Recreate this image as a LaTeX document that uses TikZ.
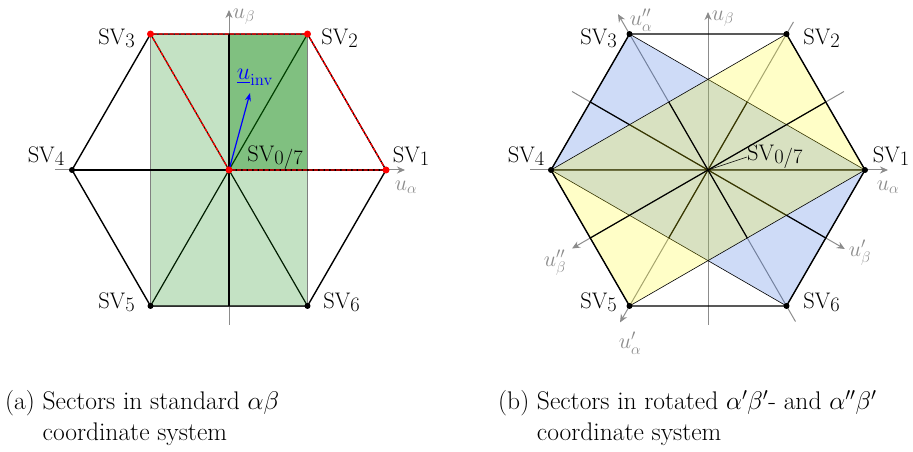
\documentclass[tikz,border=0pt]{standalone}
\usepackage{fix-cm}
\usepackage{amsmath}
\usetikzlibrary{arrows.meta}
\definecolor{axisgray}{RGB}{140,140,140}
\definecolor{secgreen}{RGB}{0,128,0}
\definecolor{secblue}{RGB}{30,90,220}
\definecolor{secyellow}{RGB}{255,250,0}
\newcommand{\svname}[1]{SV\raisebox{-0.3ex}{\fontsize{20.5}{20.5}\selectfont #1}}
\tikzset{
  hexedge/.style={line width=1.4pt, line join=round},
  secline/.style={line width=1.2pt},
  axis/.style={axisgray, line width=1pt, -{Stealth[length=8pt,width=7pt]}},
  axislabel/.style={text=axisgray, font=\fontsize{22}{22}\selectfont, inner sep=0pt},
  svlabel/.style={font=\fontsize{22.5}{22.5}\selectfont, inner sep=0pt},
  dot/.style={circle, fill=black, inner sep=0pt, minimum size=6pt},
  reddot/.style={circle, fill=red, inner sep=0pt, minimum size=7pt},
  reddash/.style={red, line width=1.3pt, dash pattern=on 4pt off 1.5pt},
  caption/.style={font=\fontsize{25.5}{31}\selectfont, anchor=base west, inner sep=0pt}
}
\begin{document}
\begin{tikzpicture}[x=1pt,y=1pt]
\useasboundingbox (0,0) rectangle (913,452);

% (a) sectors in the standard alpha-beta frame
\begin{scope}[shift={(229,282)}]
  \foreach \k in {1,...,6}
    \coordinate (a\k) at ({(\k-1)*60}:157);
  \coordinate (a0) at (0,0);
  \coordinate (atop) at (0,136);
  \coordinate (abot) at (0,-136);
  % axes
  \draw[axis] (-174,0) coordinate (axl) -- (176,0) coordinate (axr);
  \draw[axis] (0,-155) coordinate (ayb) -- (0,160) coordinate (ayt);
  % diagonals, then the sector rectangles on top
  \draw[secline] (a2) -- (a5) (a3) -- (a6);
  \fill[secgreen, fill opacity=0.23] (a3) rectangle (a6);
  \fill[secgreen, fill opacity=0.35] (a0) rectangle (a2);
  \draw[gray, line width=0.6pt] (a3) rectangle (a6);
  \draw[secline] (a4) -- (a1) (atop) -- (abot);
  % hexagon
  \draw[hexedge] (a1) -- (a2) -- (a3) -- (a4) -- (a5) -- (a6) -- cycle;
  % active sector
  \draw[reddash] (a0) -- (a3) -- (a2) -- (a1) -- cycle;
  % reference vector
  \draw[blue, line width=1.2pt, -{Stealth[length=8pt,width=6pt]}] (a0) -- (21,77) coordinate (ainv);
  \node[blue, font=\fontsize{24}{24}\selectfont, inner sep=0pt] (luinv) at ([shift={(5,16)}]ainv) {$\underline{u}_{\mathrm{inv}}$};
  % vertices
  \foreach \k in {0,1,2,3}
    \node[reddot] (da\k) at (a\k) {};
  \foreach \k in {4,5,6}
    \node[dot] (da\k) at (a\k) {};
  \node[svlabel] (la1) at ([shift={(25,14)}]a1) {\svname{1}};
  \node[svlabel] (la2) at ([shift={(32,-4)}]a2) {\svname{2}};
  \node[svlabel] (la3) at ([shift={(-34,-4)}]a3) {\svname{3}};
  \node[svlabel] (la4) at ([shift={(-26,14)}]a4) {\svname{4}};
  \node[svlabel] (la5) at ([shift={(-34,4)}]a5) {\svname{5}};
  \node[svlabel] (la6) at ([shift={(34,4)}]a6) {\svname{6}};
  \node[svlabel] (la0) at ([shift={(46,12)}]a0) {\svname{0/7}};
  \node[axislabel] (lax) at ([shift={(1,-17)}]axr) {$u_\alpha$};
  \node[axislabel] (lay) at ([shift={(15,-7)}]ayt) {$u_\beta$};
\end{scope}

% (b) sectors in the rotated frames
\begin{scope}[shift={(708,282)}]
  \foreach \k in {1,...,6}
    \coordinate (b\k) at ({(\k-1)*60}:157);
  \coordinate (b0) at (0,0);
  \foreach \ang in {30,150,210,330}
    \coordinate (bm\ang) at (\ang:136);
  \foreach \ang in {60,120,240,300}
    \coordinate (bh\ang) at (\ang:78.5);
  % axes
  \draw[axis] (-178,0) coordinate (bxl) -- (180,0) coordinate (bxr);
  \draw[axis] (0,-155) coordinate (byb) -- (0,158) coordinate (byt);
  \draw[axis] (60:171) coordinate (bpa1) -- (240:176) coordinate (bpa2);
  \draw[axis] (150:157) coordinate (bpb1) -- (330:158) coordinate (bpb2);
  \draw[axis] (300:175) coordinate (bqa1) -- (120:180) coordinate (bqa2);
  \draw[axis] (30:157) coordinate (bqb1) -- (210:157) coordinate (bqb2);
  % alpha'beta' sectors
  \filldraw[fill=secblue, fill opacity=0.22, line width=0.6pt] (b3) -- (b1) -- (b6) -- (b4) -- cycle;
  \draw[secline] (b4) -- (b1) (bm150) -- (bm330) (bh60) -- (bh240);
  % alpha''beta'' sectors
  \filldraw[fill=secyellow, fill opacity=0.22, line width=0.6pt] (b4) -- (b2) -- (b1) -- (b5) -- cycle;
  \draw[secline] (bm30) -- (bm210) (bh120) -- (bh300);
  % hexagon
  \draw[hexedge] (b1) -- (b2) -- (b3) -- (b4) -- (b5) -- (b6) -- cycle;
  \foreach \k in {1,...,6}
    \node[dot] (db\k) at (b\k) {};
  \node[svlabel] (lb1) at ([shift={(26,14)}]b1) {\svname{1}};
  \node[svlabel] (lb2) at ([shift={(35,-4)}]b2) {\svname{2}};
  \node[svlabel] (lb3) at ([shift={(-31,-4)}]b3) {\svname{3}};
  \node[svlabel] (lb4) at ([shift={(-25,14)}]b4) {\svname{4}};
  \node[svlabel] (lb5) at ([shift={(-31,4)}]b5) {\svname{5}};
  \node[svlabel] (lb6) at ([shift={(35,4)}]b6) {\svname{6}};
  \node[svlabel, anchor=west] (lb0) at (39,13) {\svname{0/7}};
  \draw[line width=0.5pt] (b0) -- (lb0.west);
  \node[axislabel] (lbx) at ([shift={(0,-17)}]bxr) {$u_\alpha$};
  \node[axislabel] (lby) at ([shift={(15,-7)}]byt) {$u_\beta$};
  \node[axislabel] (lbpa) at ([shift={(10,-21)}]bpa2) {$u'_\alpha$};
  \node[axislabel] (lbpb) at ([shift={(15,-4)}]bpb2) {$u'_\beta$};
  \node[axislabel] (lbqa) at ([shift={(23,-6)}]bqa2) {$u''_\alpha$};
  \node[axislabel] (lbqb) at ([shift={(-17,-14)}]bqb2) {$u''_\beta$};
\end{scope}

% captions
\node[caption] (capa) at (5,42) {\begin{tabular}[t]{@{}l@{\ }l@{}}(a)&Sectors in standard $\alpha\beta$\\&coordinate system\end{tabular}};
\node[caption] (capb) at (498,42) {\begin{tabular}[t]{@{}l@{\ }l@{}}(b)&Sectors in rotated $\alpha'\beta'$- and $\alpha''\beta'$\\&coordinate system\end{tabular}};
\end{tikzpicture}
\end{document}
